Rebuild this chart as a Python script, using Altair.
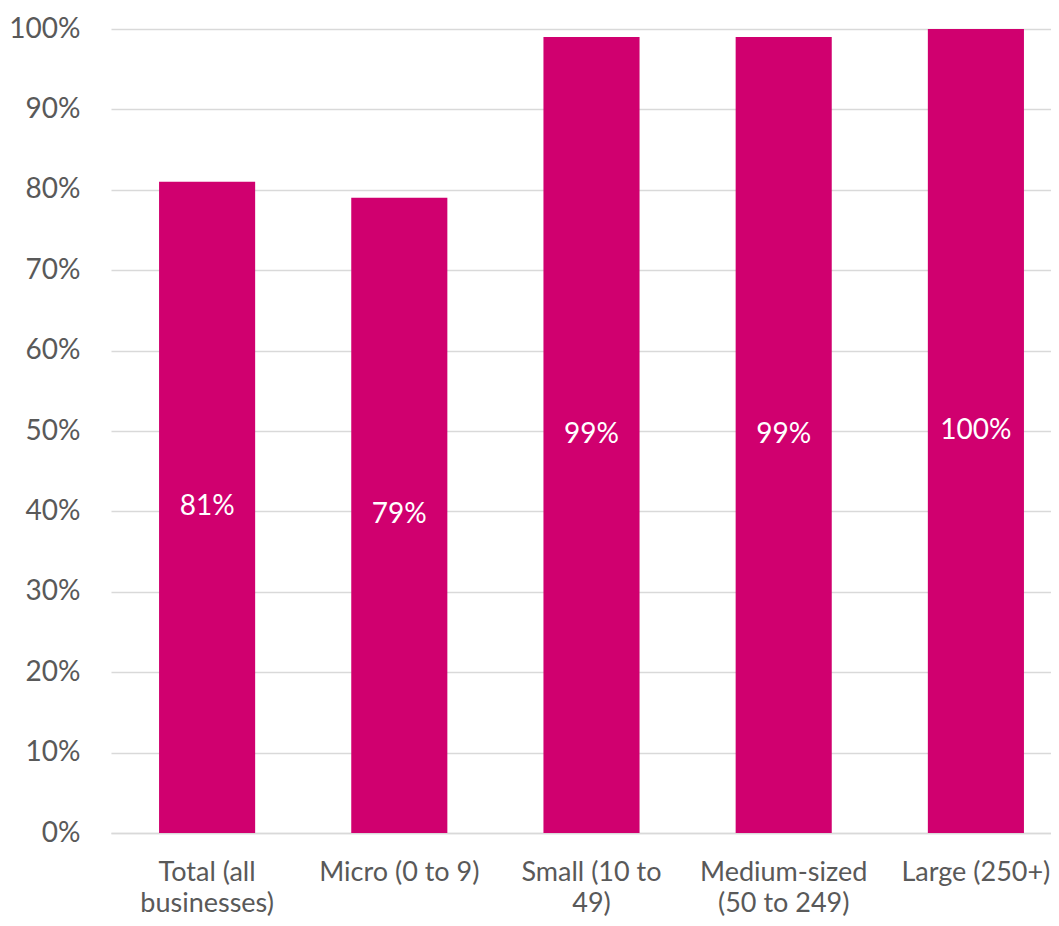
import altair as alt
import pandas as pd

categories = ["Total (all businesses)", "Micro (0 to 9)", "Small (10 to 49)",
              "Medium-sized (50 to 249)", "Large (250+)"]
label_lines = [["Total (all", "businesses)"], ["Micro (0 to 9)"], ["Small (10 to", "49)"],
               ["Medium-sized", "(50 to 249)"], ["Large (250+)"]]
values = [0.81, 0.79, 0.99, 0.99, 1.00]
value_labels = ["81%", "79%", "99%", "99%", "100%"]

df = pd.DataFrame({"cat": categories, "v": values, "lab": value_labels})

mapping = "{" + ", ".join(
    "'" + c + "': [" + ", ".join("'" + l + "'" for l in ls) + "]"
    for c, ls in zip(categories, label_lines)) + "}"
label_expr = mapping + "[datum.label]"

FONT = "Lato"
FS = 28
GREY = "#595959"
PINK = "#D0006F"

xenc = alt.X("cat:N", sort=categories, title=None,
             scale=alt.Scale(range=[0, 961], paddingInner=0.5, paddingOuter=0.25),
             axis=alt.Axis(labelAngle=0, labelExpr=label_expr, labelFontSize=27,
                           labelColor=GREY, labelFont=FONT, ticks=False,
                           domainColor="#D9D9D9", domainWidth=1.5, labelPadding=47,
                           labelLineHeight=31, labelBaseline="alphabetic",
                           labelLimit=300))
yenc = alt.Y("v:Q", title=None,
             scale=alt.Scale(domain=[0, 1], nice=False),
             axis=alt.Axis(format=".0%", values=[i / 10 for i in range(11)],
                           labelFontSize=FS, labelColor=GREY, labelFont=FONT,
                           ticks=False, domain=False, gridColor="#D9D9D9",
                           gridWidth=1.5, labelPadding=31))

bars = alt.Chart(df).mark_bar(color=PINK).encode(x=xenc, y=yenc)
text = alt.Chart(df).mark_text(color="white", fontSize=FS, font=FONT,
                               baseline="middle").encode(
    x=alt.X("cat:N", sort=categories), y=alt.Y("mid:Q"), text="lab:N"
).transform_calculate(mid="datum.v / 2")

chart = (bars + text).properties(
    width=940, height=804,
    autosize=alt.AutoSizeParams(type="none"),
    padding={"left": 103, "top": 21, "right": 0, "bottom": 85},
).configure(background="white").configure_view(stroke=None)

chart.save("out.html", embed_options={"renderer": "svg", "actions": False})
